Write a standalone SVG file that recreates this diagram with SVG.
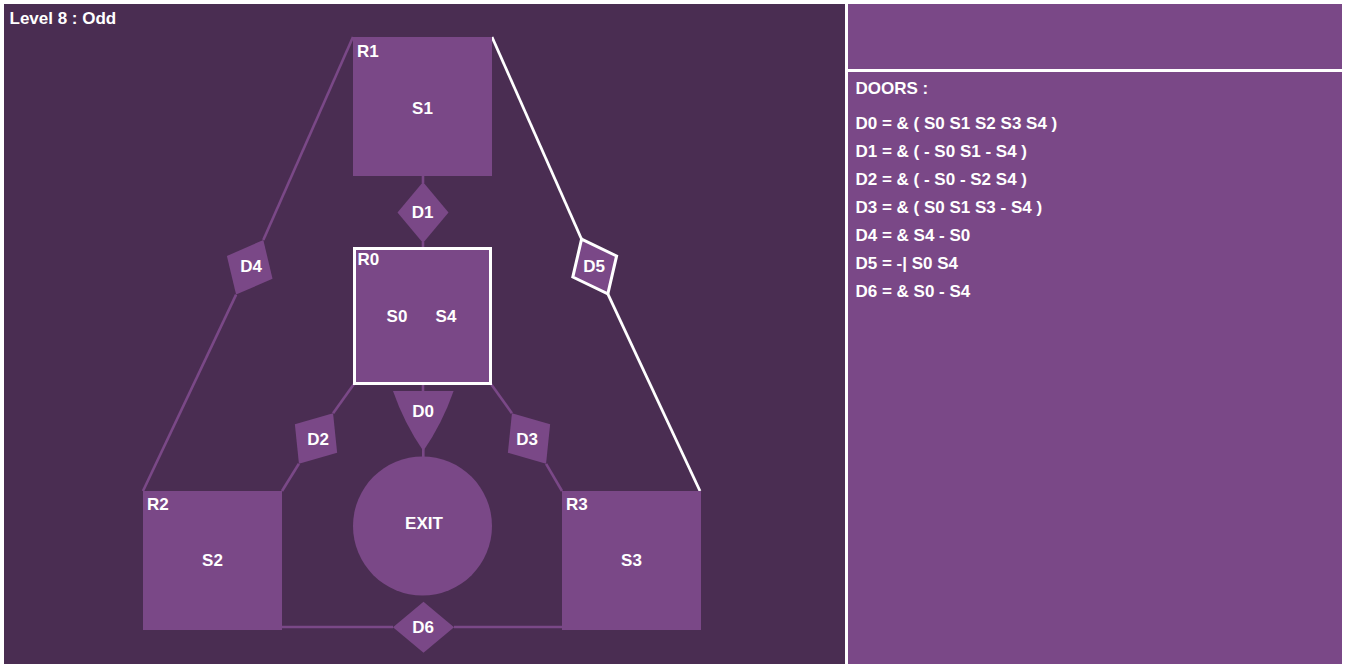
<svg xmlns="http://www.w3.org/2000/svg" xmlns:xlink="http://www.w3.org/1999/xlink" width="1346" height="668" viewBox="0 0 1346 668">
<style>
.dark{fill:#4a2d52}
.pur{fill:#7a4887}
.t{font-family:"Liberation Sans",Arial,sans-serif;font-weight:bold;font-size:17px;fill:#ffffff}
.m{text-anchor:middle}
.cp{stroke:#7a4887;stroke-width:2.6;fill:none}
.cw{stroke:#ffffff;stroke-width:2.8;fill:none}
</style>
<defs>
<path id="dm" d="M0,-30.5 L25.5,0 L0,30.5 L-25.5,0Z"/>
</defs>
<rect x="0" y="0" width="1346" height="668" fill="#ffffff"/>
<g id="panels">
<rect class="dark" x="4" y="4" width="841" height="660"/>
<rect class="pur" x="848" y="4" width="494" height="65"/>
<rect class="pur" x="848" y="72" width="494" height="592"/>
</g>
<g id="connectors">
<line class="cp" x1="423" y1="175" x2="423" y2="183"/>
<line class="cp" x1="423" y1="242" x2="423" y2="248"/>
<line class="cp" x1="423" y1="384" x2="423" y2="392"/>
<line class="cp" x1="423.3" y1="449" x2="423.3" y2="458"/>
<polyline class="cp" points="354,384 333.1,413.2"/>
<polyline class="cp" points="298.9,463.8 282,491"/>
<polyline class="cp" points="491,384 511.9,413.2"/>
<polyline class="cp" points="546.1,463.8 562,491"/>
<polyline class="cp" points="353,37 263.3,240"/>
<polyline class="cp" points="236.1,294.6 143,491"/>
<line class="cp" x1="282" y1="627" x2="393" y2="627"/>
<line class="cp" x1="454" y1="627" x2="562" y2="627"/>
<polyline class="cw" points="492,37 581.6,239.2"/>
<polyline class="cw" points="607.8,293.8 700,491"/>
</g>
<g id="R1">
<rect class="pur" x="353" y="37" width="139" height="139"/>
<text class="t" x="357" y="56.7">R1</text>
<text class="t m" x="422.5" y="113.5">S1</text>
</g>
<g id="R0">
<rect class="pur" x="354.5" y="248.5" width="136" height="135" stroke="#ffffff" stroke-width="3"/>
<text class="t" x="357.5" y="265.3">R0</text>
<text class="t m" x="397" y="322">S0</text>
<text class="t m" x="446" y="322">S4</text>
</g>
<g id="R2">
<rect class="pur" x="143" y="491" width="139" height="139"/>
<text class="t" x="147" y="510">R2</text>
<text class="t m" x="212.5" y="566">S2</text>
</g>
<g id="R3">
<rect class="pur" x="562" y="491" width="139" height="139"/>
<text class="t" x="566" y="510">R3</text>
<text class="t m" x="631.5" y="566">S3</text>
</g>
<g id="EXIT">
<circle class="pur" cx="422.5" cy="526" r="69.5"/>
<text class="t m" x="424" y="529.3">EXIT</text>
</g>
<g id="D0">
<path class="pur" d="M393,391 L453.6,391 Q442.5,423 423.3,451 Q404.1,423 393,391Z"/>
<text class="t m" x="423" y="416.7">D0</text>
</g>
<g id="D1">
<use xlink:href="#dm" class="pur" transform="translate(423,212.5)"/>
<text class="t m" x="422.5" y="217.5">D1</text>
</g>
<g id="D2">
<use xlink:href="#dm" class="pur" transform="translate(316,438.5) rotate(34)"/>
<text class="t m" x="318" y="444.5">D2</text>
</g>
<g id="D3">
<use xlink:href="#dm" class="pur" transform="translate(529,438.5) rotate(-34)"/>
<text class="t m" x="527" y="444.5">D3</text>
</g>
<g id="D4">
<use xlink:href="#dm" class="pur" transform="translate(249.7,267.3) rotate(26.5)"/>
<text class="t m" x="251" y="272">D4</text>
</g>
<g id="D5">
<path class="pur" d="M0,-30.3 L24.3,0 L0,30.3 L-24.3,0Z" stroke="#ffffff" stroke-width="3" stroke-linejoin="miter" transform="translate(594.7,266.5) rotate(-25.7)"/>
<text class="t m" x="594.2" y="272">D5</text>
</g>
<g id="D6">
<use xlink:href="#dm" class="pur" transform="translate(423.5,627.3) rotate(90)"/>
<text class="t m" x="423" y="633.3">D6</text>
</g>
<g id="doors">
<text class="t" x="855.5" y="94.3">DOORS :</text>
<text class="t" x="855.5" y="129.3">D0 = &amp; ( S0 S1 S2 S3 S4 )</text>
<text class="t" x="855.5" y="157.3">D1 = &amp; ( - S0 S1 - S4 )</text>
<text class="t" x="855.5" y="185.3">D2 = &amp; ( - S0 - S2 S4 )</text>
<text class="t" x="855.5" y="213.3">D3 = &amp; ( S0 S1 S3 - S4 )</text>
<text class="t" x="855.5" y="241.3">D4 = &amp; S4 - S0</text>
<text class="t" x="855.5" y="269.3">D5 = -| S0 S4</text>
<text class="t" x="855.5" y="297.3">D6 = &amp; S0 - S4</text>
</g>
<text class="t" x="9.5" y="24.3">Level 8 : Odd</text>
</svg>
